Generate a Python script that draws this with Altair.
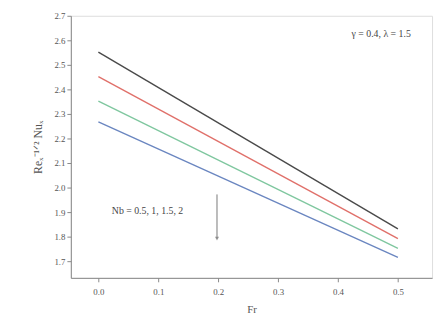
import altair as alt
import pandas as pd

# Data (straight lines from Fr=0 to Fr=0.5)
nb_values = ["0.5", "1", "1.5", "2"]
fr_points = [0.0, 0.5]
series_start = [2.552, 2.452, 2.352, 2.268]
series_end = [1.832, 1.792, 1.752, 1.716]
line_colors = ["#4a4a4a", "#e0706a", "#7fc79f", "#6a86c0"]

y_ticks = [1.7, 1.8, 1.9, 2.0, 2.1, 2.2, 2.3, 2.4, 2.5, 2.6, 2.7]
x_ticks = [0.0, 0.1, 0.2, 0.3, 0.4, 0.5]

rows = []
for nb, s, e in zip(nb_values, series_start, series_end):
    rows.append({"Fr": fr_points[0], "val": s, "Nb": nb})
    rows.append({"Fr": fr_points[1], "val": e, "Nb": nb})
df = pd.DataFrame(rows)

font = "Liberation Serif"
xscale = alt.Scale(domain=[-0.046, 0.557], nice=False, zero=False)
yscale = alt.Scale(domain=[1.632, 2.7], nice=False, zero=False)

xaxis = alt.Axis(values=x_ticks, format=".1f", title="Fr", grid=False,
                 tickSize=4, labelFontSize=9, titleFontSize=11, labelPadding=6,
                 labelFont=font, titleFont=font, titleFontWeight="normal",
                 domainColor="#888", tickColor="#888", labelColor="#555",
                 titleColor="#555", titlePadding=7, labelOverlap=False)
yaxis = alt.Axis(values=y_ticks, format=".1f", title="Reₓ⁻¹ᐟ² Nuₓ", grid=False,
                 tickSize=4, labelFontSize=9, titleFontSize=12,
                 labelFont=font, titleFont=font, titleFontWeight="normal",
                 domainColor="#888", tickColor="#888", labelColor="#555",
                 titleColor="#555", titlePadding=10, labelOverlap=False)

lines = alt.Chart(df).mark_line(strokeWidth=1.4).encode(
    x=alt.X("Fr:Q", scale=xscale, axis=xaxis),
    y=alt.Y("val:Q", scale=yscale, axis=yaxis),
    color=alt.Color("Nb:N", scale=alt.Scale(domain=nb_values, range=line_colors), legend=None),
    detail="Nb:N",
)

ann_df = pd.DataFrame({
    "x": [0.082, 0.472],
    "y": [1.904, 2.624],
    "label": ["Nb = 0.5, 1, 1.5, 2", "γ = 0.4, λ = 1.5"],
})
ann = alt.Chart(ann_df).mark_text(font=font, fontSize=10, color="#444").encode(
    x=alt.X("x:Q", scale=xscale, axis=xaxis), y=alt.Y("y:Q", scale=yscale, axis=yaxis), text="label:N"
)

arrow_df = pd.DataFrame({"x": [0.198], "y": [1.972], "y2": [1.792]})
arrow = alt.Chart(arrow_df).mark_rule(color="#777", strokeWidth=1).encode(
    x=alt.X("x:Q", scale=xscale, axis=xaxis), y=alt.Y("y:Q", scale=yscale, axis=yaxis), y2="y2:Q"
)
head = alt.Chart(arrow_df).mark_point(shape="triangle-down", filled=True, size=18, color="#777").encode(
    x=alt.X("x:Q", scale=xscale, axis=xaxis), y=alt.Y("y2:Q", scale=yscale, axis=yaxis)
)

chart = (lines + ann + arrow + head).properties(
    width=368, height=267,
    autosize=alt.AutoSizeParams(type="none"),
    padding={"left": 64, "top": 5, "right": 3, "bottom": 40},
).configure_view(stroke="#888", strokeWidth=1).configure(background="white")

chart.save("out.html", embed_options={"renderer": "svg", "actions": False})
